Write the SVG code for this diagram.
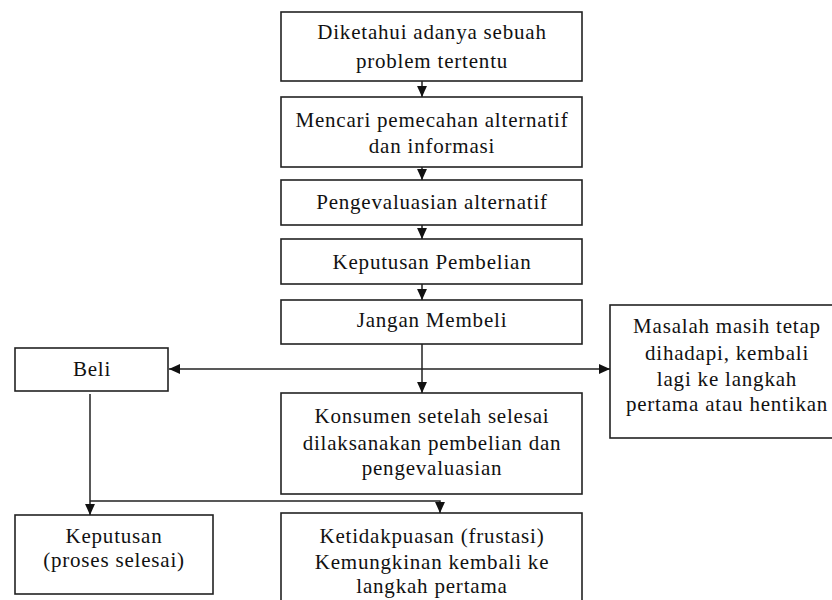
<svg xmlns="http://www.w3.org/2000/svg" width="832" height="600" viewBox="0 0 832 600">
<defs>
<style>
.box{fill:#fff;stroke:#222;stroke-width:1.6}
.t{font-family:"Liberation Serif","Times New Roman",serif;font-size:21px;letter-spacing:0.8px;fill:#111;text-anchor:middle}
.c{fill:none;stroke:#222;stroke-width:1.5}
</style>
<marker id="ah" viewBox="0 0 10 10" refX="10" refY="5" markerWidth="11" markerHeight="11" markerUnits="userSpaceOnUse" orient="auto-start-reverse">
<path d="M0,0.5 L10,5 L0,9.5 z" fill="#111"/>
</marker>
</defs>
<rect width="832" height="600" fill="#fff"/>
<g id="n1"><rect class="box" x="281" y="12" width="301" height="69"/><text class="t" x="432" y="39">Diketahui adanya sebuah</text><text class="t" x="432" y="68">problem tertentu</text></g>
<g id="n2"><rect class="box" x="281" y="97" width="301" height="70"/><text class="t" x="432" y="127">Mencari pemecahan alternatif</text><text class="t" x="432" y="153">dan informasi</text></g>
<g id="n3"><rect class="box" x="281" y="180" width="301" height="45"/><text class="t" x="432" y="209">Pengevaluasian alternatif</text></g>
<g id="n4"><rect class="box" x="281" y="239" width="301" height="45"/><text class="t" x="432" y="269">Keputusan Pembelian</text></g>
<g id="n5"><rect class="box" x="281" y="300" width="301" height="44"/><text class="t" x="432" y="327">Jangan Membeli</text></g>
<g id="n6"><rect class="box" x="15" y="348" width="153" height="43"/><text class="t" x="92" y="376">Beli</text></g>
<g id="n7"><rect class="box" x="610" y="305" width="240" height="133"/><text class="t" x="727" y="333">Masalah masih tetap</text><text class="t" x="727" y="360">dihadapi, kembali</text><text class="t" x="727" y="386">lagi ke langkah</text><text class="t" x="727" y="411">pertama atau hentikan</text></g>
<g id="n8"><rect class="box" x="281" y="393" width="301" height="101"/><text class="t" x="432" y="423">Konsumen setelah selesai</text><text class="t" x="432" y="450">dilaksanakan pembelian dan</text><text class="t" x="432" y="475">pengevaluasian</text></g>
<g id="n9"><rect class="box" x="15" y="515" width="198" height="79"/><text class="t" x="114" y="543">Keputusan</text><text class="t" x="114" y="567">(proses selesai)</text></g>
<g id="n10"><rect class="box" x="281" y="513" width="301" height="100"/><text class="t" x="432" y="543">Ketidakpuasan (frustasi)</text><text class="t" x="432" y="569">Kemungkinan kembali ke</text><text class="t" x="432" y="593">langkah pertama</text></g>
<g id="connectors">
<line class="c" x1="422" y1="81" x2="422" y2="97" marker-end="url(#ah)"/>
<line class="c" x1="422" y1="167" x2="422" y2="180" marker-end="url(#ah)"/>
<line class="c" x1="422" y1="225" x2="422" y2="239" marker-end="url(#ah)"/>
<line class="c" x1="422" y1="284" x2="422" y2="300" marker-end="url(#ah)"/>
<line class="c" x1="422" y1="344" x2="422" y2="393" marker-end="url(#ah)"/>
<line class="c" x1="169" y1="369" x2="610" y2="369" marker-start="url(#ah)" marker-end="url(#ah)"/>
<line class="c" x1="90" y1="394" x2="90" y2="515" marker-end="url(#ah)"/>
<polyline class="c" points="90,501 440,501 440,513" marker-end="url(#ah)"/>
</g>
</svg>
